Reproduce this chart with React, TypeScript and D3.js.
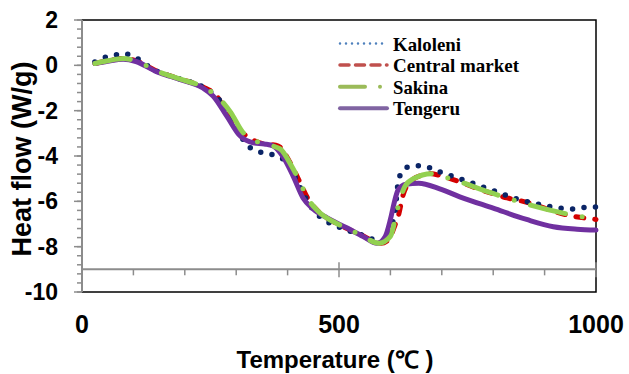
import React, { useEffect, useRef } from "react";
import * as d3 from "d3";

type Pt = [number, number];

// values: [temperature (°C), heat flow (W/g)]
const kaloleni: Pt[] = [
  [25, 0.15], [35, 0.28], [58, 0.41], [80, 0.53], [101, 0.38], [140, -0.2],
  [190, -0.6], [235, -0.95], [262, -1.4], [290, -2.2], [317, -3.4], [339, -3.78],
  [360, -3.88], [399, -4.27], [420, -5.2], [443, -6.16], [459, -6.6], [477, -6.9],
  [498, -7.12], [540, -7.45], [586, -7.78], [596, -7.4], [609, -6.4], [615, -5.2],
  [623, -4.69], [642, -4.43], [665, -4.44], [689, -4.65], [710, -4.81], [755, -5.16],
  [800, -5.53], [843, -5.87], [889, -6.13], [934, -6.31], [957, -6.34], [982, -6.26],
  [1000, -6.25],
];

const centralMarket: Pt[] = [
  [25, 0.08], [50, 0.2], [80, 0.3], [105, 0.2], [145, -0.25], [190, -0.6],
  [235, -0.95], [262, -1.35], [284, -2.19], [311, -2.95], [346, -3.42], [382, -3.56],
  [405, -4.3], [425, -5.2], [440, -5.9], [460, -6.45], [502, -7.05], [540, -7.45],
  [582, -7.85], [596, -7.7], [609, -7.05], [615, -6.68], [625, -5.7], [640, -5.1],
  [663, -4.84], [677, -4.77], [702, -4.9], [788, -5.58], [827, -5.85], [858, -6.0],
  [943, -6.6], [1000, -6.8],
];

const sakina: Pt[] = [
  [25, 0.08], [50, 0.2], [80, 0.3], [105, 0.2], [145, -0.25], [190, -0.6],
  [235, -0.95], [262, -1.35], [290, -2.1], [311, -2.9], [346, -3.42], [385, -3.68],
  [408, -4.45], [425, -5.2], [440, -5.9], [460, -6.45], [502, -7.05], [540, -7.45],
  [578, -7.85], [600, -7.55], [612, -6.5], [619, -5.9], [628, -5.35], [645, -5.0],
  [680, -4.78], [716, -5.0], [790, -5.58], [865, -6.12], [936, -6.52], [1000, -6.78],
];

const tengeru: Pt[] = [
  [25, 0.08], [50, 0.18], [80, 0.27], [105, 0.17], [145, -0.28], [190, -0.62],
  [235, -1.0], [255, -1.35], [282, -2.25], [307, -3.1], [333, -3.42], [355, -3.47],
  [372, -3.56], [391, -4.03], [411, -4.9], [430, -5.85], [450, -6.34], [477, -6.73],
  [516, -7.18], [547, -7.55], [574, -7.85], [590, -7.55], [600, -6.8], [607, -6.1],
  [615, -5.5], [630, -5.25], [655, -5.2], [696, -5.45], [735, -5.8], [800, -6.3],
  [865, -6.8], [917, -7.12], [963, -7.23], [1000, -7.27],
];

const seriesNames = ["Kaloleni", "Central market", "Sakina", "Tengeru"];
const yTickLabels = [2, 0, -2, -4, -6, -8, -10];
const xTickLabels = [0, 500, 1000];

const W = 629;
const H = 374;

const App = () => {
  const ref = useRef<SVGSVGElement>(null);

  useEffect(() => {
    const svg = d3.select(ref.current);
    svg.selectAll("*").remove();

    const x = d3.scaleLinear().domain([0, 1000]).range([82, 596]);
    const y = d3.scaleLinear().domain([-10, 2]).range([292, 20]);

    // frame
    svg.append("rect")
      .attr("x", x(0)).attr("y", y(2))
      .attr("width", x(1000) - x(0)).attr("height", y(-10) - y(2))
      .attr("fill", "none").attr("stroke", "#000").attr("stroke-width", 1.5);

    // gray y axis with minor ticks
    const gray = "#8c8c8c";
    svg.append("line")
      .attr("x1", x(0)).attr("x2", x(0)).attr("y1", y(2)).attr("y2", y(-10))
      .attr("stroke", gray).attr("stroke-width", 2);
    const minor = d3.range(-10, 2.001, 0.4);
    svg.selectAll(".ymin").data(minor).enter().append("line")
      .attr("x1", x(0) - 5).attr("x2", x(0))
      .attr("y1", (d) => y(d)).attr("y2", (d) => y(d))
      .attr("stroke", gray).attr("stroke-width", 1.5);
    svg.selectAll(".ymaj").data(yTickLabels).enter().append("line")
      .attr("x1", x(0) - 8).attr("x2", x(0))
      .attr("y1", (d) => y(d)).attr("y2", (d) => y(d))
      .attr("stroke", gray).attr("stroke-width", 1.5);

    // gray x axis crossing at -9
    const ax = y(-9);
    svg.append("line")
      .attr("x1", x(0)).attr("x2", x(1000)).attr("y1", ax).attr("y2", ax)
      .attr("stroke", gray).attr("stroke-width", 2);
    svg.selectAll(".xmin").data(d3.range(100, 1000, 100).filter((d) => d !== 500)).enter()
      .append("line")
      .attr("x1", (d) => x(d)).attr("x2", (d) => x(d))
      .attr("y1", ax).attr("y2", ax + 6)
      .attr("stroke", gray).attr("stroke-width", 1.5);
    svg.selectAll(".xmaj").data([500, 1000]).enter().append("line")
      .attr("x1", (d) => x(d)).attr("x2", (d) => x(d))
      .attr("y1", ax - 7).attr("y2", ax + 8)
      .attr("stroke", gray).attr("stroke-width", 1.5);

    // tick labels
    svg.selectAll(".ylab").data(yTickLabels).enter().append("text")
      .attr("x", 58).attr("y", (d) => y(d) + 8)
      .attr("text-anchor", "end")
      .style("font", "bold 23px 'Liberation Sans', Arial, sans-serif")
      .text((d) => d);
    svg.selectAll(".xlab").data(xTickLabels).enter().append("text")
      .attr("x", (d) => x(d)).attr("y", 333)
      .attr("text-anchor", "middle")
      .style("font", "bold 25px 'Liberation Sans', Arial, sans-serif")
      .text((d) => d);

    // axis titles
    svg.append("text")
      .attr("x", 335).attr("y", 368)
      .attr("text-anchor", "middle")
      .style("font", "bold 24px 'Liberation Sans', Arial, sans-serif")
      .text("Temperature (℃ )");
    svg.append("text")
      .attr("transform", "translate(31,159) rotate(-90)")
      .attr("text-anchor", "middle")
      .style("font", "bold 27px 'Liberation Sans', Arial, sans-serif")
      .text("Heat flow (W/g)");

    // curves
    const line = d3.line<Pt>()
      .x((d) => x(d[0]))
      .y((d) => y(d[1]))
      .curve(d3.curveMonotoneX);

    const styles = [
      { data: centralMarket, color: "#d40000", dash: "8 11", w: 5 },
      { data: kaloleni, color: "#0a2466", dash: "0 11.5", w: 5.5 },
      { data: tengeru, color: "#7030a0", dash: null, w: 5 },
      { data: sakina, color: "#92d050", dash: "36 17 0 17", w: 5 },
    ];
    styles.forEach((s) => {
      svg.append("path")
        .attr("d", line(s.data))
        .attr("fill", "none")
        .attr("stroke", s.color)
        .attr("stroke-width", s.w)
        .attr("stroke-linecap", "round")
        .attr("stroke-linejoin", "round")
        .attr("stroke-dasharray", s.dash);
    });

    // legend
    const legendStyles = [
      { color: "#4f81bd", dash: "0 6", w: 2.5, x2: 386 },
      { color: "#c0504d", dash: "9 6.5", w: 3.5, x2: 387 },
      { color: "#9bbb59", dash: "25 15 0 30", w: 4, x2: 381 },
      { color: "#8064a2", dash: null, w: 4, x2: 387 },
    ];
    const textLen = [68, 126, 55, 67];
    seriesNames.forEach((name, i) => {
      const ly = 43.5 + i * 21.6;
      const st = legendStyles[i];
      svg.append("line")
        .attr("x1", 340).attr("x2", st.x2).attr("y1", ly).attr("y2", ly)
        .attr("stroke", st.color).attr("stroke-width", st.w)
        .attr("stroke-linecap", "round")
        .attr("stroke-dasharray", st.dash);
      svg.append("text")
        .attr("x", 393).attr("y", ly + 7)
        .attr("textLength", textLen[i])
        .attr("lengthAdjust", "spacingAndGlyphs")
        .style("font", "bold 19px 'Liberation Serif', 'Times New Roman', serif")
        .text(name);
    });
  }, []);

  return (
    <svg
      ref={ref}
      width={W}
      height={H}
      style={{ position: "absolute", left: 0, top: 0, background: "#fff" }}
    />
  );
};

export default App;
